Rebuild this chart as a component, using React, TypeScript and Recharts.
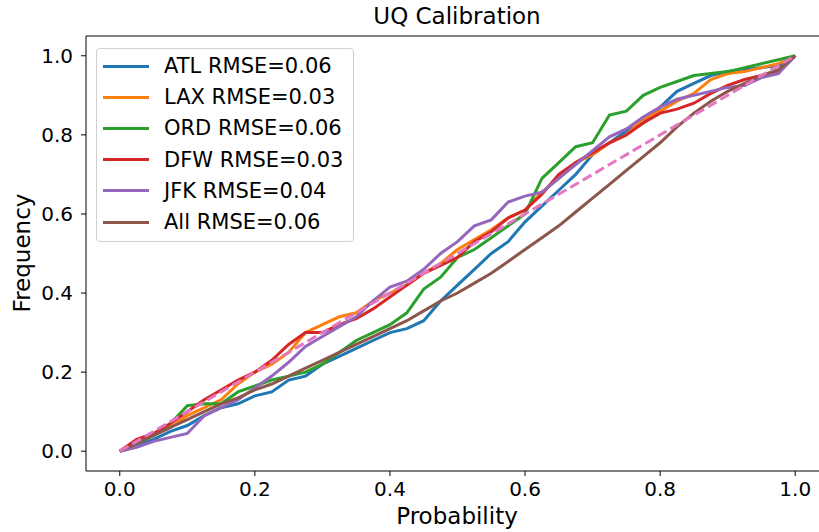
import React from "react";
import { LineChart, Line, XAxis, YAxis, ReferenceLine, Legend } from "recharts";

// predicted probability bins
const PROB = [
  0, 0.025, 0.05, 0.075, 0.1, 0.125, 0.15, 0.175, 0.2, 0.225, 0.25, 0.275, 0.3, 0.325, 0.35, 0.375, 0.4,
  0.425, 0.45, 0.475, 0.5, 0.525, 0.55, 0.575, 0.6, 0.625, 0.65, 0.675, 0.7, 0.725, 0.75, 0.775, 0.8,
  0.825, 0.85, 0.875, 0.9, 0.925, 0.95, 0.975, 1,
];

// observed frequency per airport
const ATL = [
  0, 0.015, 0.03, 0.05, 0.065, 0.09, 0.11, 0.12, 0.14, 0.15, 0.18, 0.19, 0.22, 0.24, 0.26, 0.28, 0.3,
  0.31, 0.33, 0.38, 0.42, 0.46, 0.5, 0.53, 0.58, 0.62, 0.66, 0.7, 0.75, 0.78, 0.81, 0.83, 0.87,
  0.91, 0.93, 0.95, 0.96, 0.965, 0.97, 0.975, 1,
];
const LAX = [
  0, 0.02, 0.04, 0.06, 0.09, 0.11, 0.13, 0.17, 0.2, 0.22, 0.25, 0.3, 0.32, 0.34, 0.35, 0.38, 0.4,
  0.42, 0.45, 0.475, 0.51, 0.535, 0.56, 0.59, 0.61, 0.655, 0.69, 0.73, 0.75, 0.78, 0.8, 0.84, 0.86,
  0.885, 0.905, 0.94, 0.955, 0.96, 0.97, 0.98, 1,
];
const ORD = [
  0, 0.02, 0.04, 0.07, 0.115, 0.12, 0.12, 0.15, 0.165, 0.18, 0.19, 0.2, 0.22, 0.25, 0.28, 0.3, 0.32,
  0.35, 0.41, 0.44, 0.49, 0.51, 0.54, 0.57, 0.6, 0.69, 0.73, 0.77, 0.78, 0.85, 0.86, 0.9, 0.92,
  0.935, 0.95, 0.955, 0.96, 0.97, 0.98, 0.99, 1,
];
const DFW = [
  0, 0.03, 0.045, 0.07, 0.1, 0.13, 0.155, 0.18, 0.2, 0.23, 0.27, 0.3, 0.3, 0.32, 0.335, 0.36, 0.39,
  0.42, 0.45, 0.47, 0.49, 0.53, 0.555, 0.59, 0.61, 0.65, 0.7, 0.73, 0.755, 0.78, 0.8, 0.83, 0.855,
  0.865, 0.88, 0.905, 0.925, 0.94, 0.95, 0.96, 1,
];
const JFK = [
  0, 0.01, 0.025, 0.035, 0.045, 0.09, 0.11, 0.13, 0.16, 0.19, 0.225, 0.265, 0.29, 0.315, 0.34, 0.38, 0.415,
  0.43, 0.46, 0.5, 0.53, 0.57, 0.585, 0.63, 0.645, 0.655, 0.69, 0.725, 0.76, 0.795, 0.815, 0.845, 0.87,
  0.89, 0.9, 0.91, 0.92, 0.925, 0.945, 0.955, 1,
];
const ALL = [
  0, 0.02, 0.04, 0.06, 0.08, 0.1, 0.12, 0.135, 0.155, 0.17, 0.19, 0.21, 0.23, 0.25, 0.27, 0.29, 0.31,
  0.33, 0.355, 0.38, 0.4, 0.425, 0.45, 0.48, 0.51, 0.54, 0.57, 0.605, 0.64, 0.675, 0.71, 0.745, 0.78,
  0.82, 0.855, 0.885, 0.91, 0.93, 0.95, 0.965, 1,
];

// perfect calibration
const IDEAL_X = [0, 1];
const IDEAL_Y = [0, 1];

const TICKS = [0, 0.2, 0.4, 0.6, 0.8, 1.0];

const SERIES = [
  { key: "ATL", label: "ATL RMSE=0.06", values: ATL, color: "#1f77b4" },
  { key: "LAX", label: "LAX RMSE=0.03", values: LAX, color: "#ff7f0e" },
  { key: "ORD", label: "ORD RMSE=0.06", values: ORD, color: "#2ca02c" },
  { key: "DFW", label: "DFW RMSE=0.03", values: DFW, color: "#d62728" },
  { key: "JFK", label: "JFK RMSE=0.04", values: JFK, color: "#9467bd" },
  { key: "All", label: "All RMSE=0.06", values: ALL, color: "#8c564b" },
];

const rows = PROB.map((p, i) => {
  const r: Record<string, number> = { p };
  SERIES.forEach((s) => (r[s.key] = s.values[i]));
  return r;
});
const ideal = IDEAL_X.map((p, i) => ({ p, ideal: IDEAL_Y[i] }));

const FONT = "DejaVu Sans";
const fmt = (v: number) => v.toFixed(1);

function LegendBox() {
  return (
    <div
      style={{
        position: "relative",
        width: 256,
        height: 192,
        border: "1px solid #d0d0d0",
        borderRadius: 4,
        background: "rgba(255,255,255,0.8)",
        fontFamily: FONT,
        fontSize: 21,
        color: "#000",
      }}
    >
      {SERIES.map((s, i) => (
        <div
          key={s.key}
          style={{ position: "absolute", left: 6, top: 3 + i * 31.2, height: 28, display: "flex", alignItems: "center" }}
        >
          <div style={{ width: 46, height: 3, background: s.color }} />
          <span style={{ marginLeft: 15, whiteSpace: "nowrap" }}>{s.label}</span>
        </div>
      ))}
    </div>
  );
}

export default function App() {
  return (
    <div style={{ position: "absolute", left: 0, top: 0, width: 819, height: 532, overflow: "hidden", background: "#fff" }}>
      <LineChart width={840} height={532} data={rows} margin={{ top: 36, right: 11, bottom: 31, left: 26 }}>
        <XAxis
          dataKey="p"
          type="number"
          domain={[-0.05, 1.05]}
          ticks={TICKS}
          tickFormatter={fmt}
          allowDataOverflow
          height={30}
          stroke="#000"
          tickSize={5}
          tickMargin={6}
          tick={{ fill: "#000", fontSize: 20, fontFamily: FONT }}
        />
        <YAxis
          type="number"
          domain={[-0.05, 1.05]}
          ticks={TICKS}
          tickFormatter={fmt}
          allowDataOverflow
          width={60}
          stroke="#000"
          tickSize={5}
          tickMargin={8}
          tick={{ fill: "#000", fontSize: 20, fontFamily: FONT }}
        />
        <ReferenceLine y={1.05} stroke="#000" strokeWidth={1} />
        <ReferenceLine x={1.05} stroke="#000" strokeWidth={1} />
        {SERIES.map((s) => (
          <Line
            key={s.key}
            dataKey={s.key}
            type="linear"
            stroke={s.color}
            strokeWidth={3}
            dot={false}
            isAnimationActive={false}
          />
        ))}
        <Line
          data={ideal}
          dataKey="ideal"
          type="linear"
          stroke="#e377c2"
          strokeWidth={3}
          strokeDasharray="10 4.5"
          dot={false}
          legendType="none"
          isAnimationActive={false}
        />
        <Legend
          layout="horizontal"
          verticalAlign="middle"
          align="center"
          content={() => <LegendBox />}
          wrapperStyle={{ position: "absolute", left: 96, top: 48, width: 258, height: 194 }}
        />
      </LineChart>
      <div
        style={{
          position: "absolute",
          left: 457,
          top: 3,
          transform: "translateX(-50%)",
          fontFamily: FONT,
          fontSize: 23,
          whiteSpace: "nowrap",
        }}
      >
        UQ Calibration
      </div>
      <div
        style={{
          position: "absolute",
          left: 457,
          top: 503,
          transform: "translateX(-50%)",
          fontFamily: FONT,
          fontSize: 23,
          whiteSpace: "nowrap",
        }}
      >
        Probability
      </div>
      <div
        style={{
          position: "absolute",
          left: 22,
          top: 253,
          transform: "translate(-50%, -50%) rotate(-90deg)",
          fontFamily: FONT,
          fontSize: 23,
          whiteSpace: "nowrap",
        }}
      >
        Frequency
      </div>
    </div>
  );
}
